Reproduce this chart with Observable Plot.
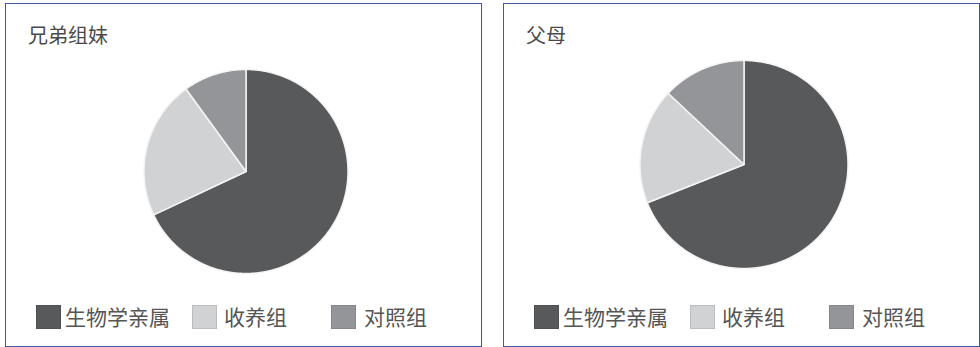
<!DOCTYPE html>
<html>
<head>
<meta charset="utf-8">
<script src="https://cdn.jsdelivr.net/npm/d3@7"></script>
<script src="https://cdn.jsdelivr.net/npm/@observablehq/plot@0.6"></script>
<style>
  html, body { margin: 0; padding: 0; background: #fff; }
  body { width: 980px; height: 347px; position: relative; overflow: hidden;
         font-family: "Noto Sans CJK SC", "Noto Sans", sans-serif; }
  .panel { position: absolute; top: 3px; width: 477px; height: 344px; box-sizing: border-box;
           border: 1px solid #3f58a3; background: #fff; }
  .title { position: absolute; left: 22px; top: 21px; font-size: 20px; line-height: 20px; color: #4a4a4a; white-space: nowrap; }
  .pie { position: absolute; left: 1.5px; }
  .sw { position: absolute; width: 25px; height: 24px; box-sizing: border-box; }
  .lt { position: absolute; font-size: 21px; line-height: 21px; color: #555; white-space: nowrap; }
</style>
</head>
<body>
<script>
// ---- data ----
const categories = ["生物学亲属", "收养组", "对照组"];
const colors = ["#58595b", "#d1d2d4", "#939598"];
const panelTitles = ["兄弟组妹", "父母"];
const siblingsValues = [68, 22, 10];
const parentsValues = [69, 18, 13];

// ---- layout (not data) ----
const layout = [
  {left: 5, cy: 167, r: 102, values: siblingsValues, title: panelTitles[0]},
  {left: 503, cy: 160, r: 104, values: parentsValues, title: panelTitles[1]}
];
const swatchX = [30, 186, 325];
const textX = [59, 218, 358];
const W = 475, H = 240;

function slices(values) {
  const arcs = d3.pie().sort(null).value(d => d)(values);
  const pts = [];
  arcs.forEach((a, i) => {
    const cat = categories[i];
    pts.push({cat, x: 0, y: 0});
    const n = Math.max(2, Math.ceil((a.endAngle - a.startAngle) / (Math.PI / 360)));
    for (let k = 0; k <= n; k++) {
      const t = a.startAngle + (a.endAngle - a.startAngle) * k / n;
      pts.push({cat, x: Math.sin(t), y: Math.cos(t)});
    }
    pts.push({cat, x: 0, y: 0});
  });
  return pts;
}

layout.forEach(p => {
  const panel = document.createElement("div");
  panel.className = "panel";
  panel.style.left = p.left + "px";
  document.body.appendChild(panel);

  const t = document.createElement("div");
  t.className = "title";
  t.textContent = p.title;
  panel.appendChild(t);

  const hx = W / 2 / p.r, hy = H / 2 / p.r;
  const chart = Plot.plot({
    width: W, height: H, margin: 0,
    x: {domain: [-hx, hx], axis: null},
    y: {domain: [-hy, hy], axis: null},
    color: {domain: categories, range: colors},
    marks: [
      Plot.line(slices(p.values), {x: "x", y: "y", z: "cat", fill: "cat",
        stroke: "#f4f4f4", strokeWidth: 1.5, strokeLinejoin: "round"})
    ]
  });
  chart.classList.add("pie");
  chart.style.top = (p.cy - H / 2) + "px";
  panel.appendChild(chart);

  categories.forEach((c, i) => {
    const s = document.createElement("div");
    s.className = "sw";
    s.style.left = swatchX[i] + "px";
    s.style.top = "301px";
    s.style.background = colors[i];
    s.style.border = "1px solid " + d3.color(colors[i]).darker(0.3).formatHex();
    panel.appendChild(s);
    const l = document.createElement("div");
    l.className = "lt";
    l.style.left = textX[i] + "px";
    l.style.top = "302px";
    l.textContent = c;
    panel.appendChild(l);
  });
});
</script>
</body>
</html>
